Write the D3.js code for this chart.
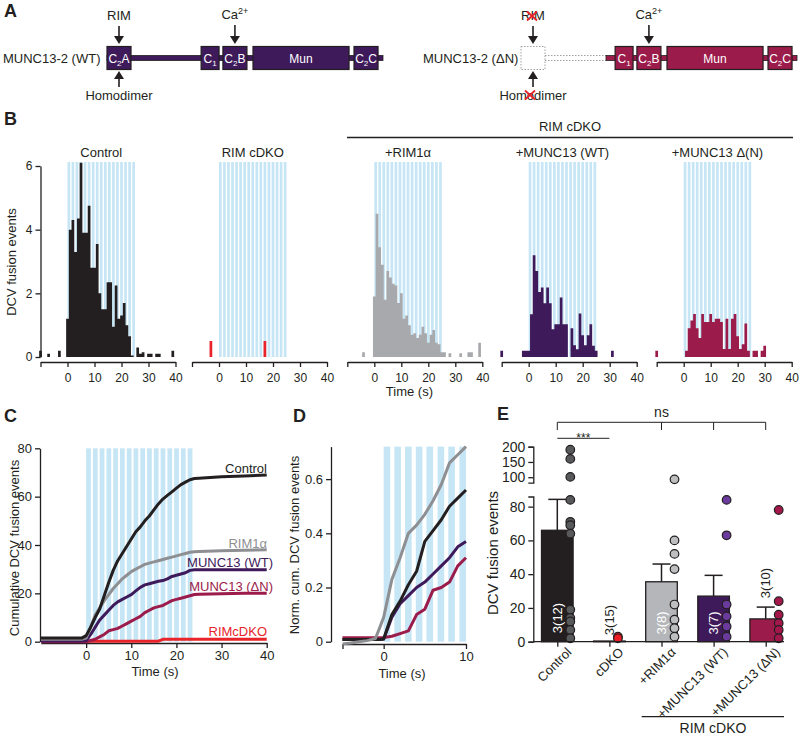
<!DOCTYPE html>
<meta charset="utf-8">
<style>
    body { margin: 0; background: #fff; }
    svg text { font-family: Arial, "Liberation Sans", Helvetica, sans-serif; fill: #231f20; }
    .axis path, .axis line { stroke: #231f20; stroke-width: 1.3; fill: none; }
    .axis text { font-size: 12px; }
</style>

<div id="fig"></div>

<script src="https://cdn.jsdelivr.net/npm/d3@7"></script>

<script>
    // ---------- data ----------
    // A: MUNC13-2 domains along the protein (relative units, 0-1000)
    var munDomains = [
        {name: "C", sub: "2", tail: "A", from: 0, to: 87},
        {name: "C", sub: "1", tail: "", from: 341, to: 406},
        {name: "C", sub: "2", tail: "B", from: 420, to: 507},
        {name: "Mun", sub: "", tail: "", from: 529, to: 877},
        {name: "C", sub: "2", tail: "C", from: 895, to: 982}
    ];
    var munLength = 1000, deltaNStart = 308;

    // B: DCV fusion events per 1 s bin, bins centred on -10 ... 39 s
    var binTimes = d3.range(-10, 40);
    var histControl = [0.2,0,0,0.1,0,0,0,0.2,0,0,
        1.2,4.0,4.3,3.3,4.35,6.1,3.9,3.9,4.75,2.8,
        2.8,3.55,2.0,1.5,1.5,2.35,2.35,0.95,2.25,1.2,
        1.3,1.7,1.0,0.65,0.05,0,0.3,0.1,0.15,0,
        0.1,0.1,0,0.1,0.1,0,0,0,0,0.2];
    var histCdko = [0,0,0,0,0,0,0,0.5,0,0,
        0,0,0,0,0,0,0,0,0,0,
        0,0,0,0,0,0,0,0.5,0,0,
        0,0,0,0,0,0,0,0,0,0,
        0,0,0,0,0,0,0,0,0,0];
    var histRim = [0,0,0,0,0,0,0.15,0,0,0,
        1.9,4.5,3.45,2.9,1.8,2.7,2.5,2.3,2.25,1.7,
        2.0,1.2,1.3,1.0,0.7,0.75,0.6,0.7,0.95,0.75,
        0.45,0.7,0.85,0.45,0.4,0.15,0.15,0,0.12,0,
        0,0,0.12,0,0,0.15,0.15,0,0,0.45];
    var histWT = [0.2,0,0,0,0,0,0,0,0.2,0.2,
        0.2,1.34,3.2,2.7,2.04,2.18,1.69,2.18,1.69,0.87,
        1.03,1.03,1.87,1.03,1.03,0,0.9,0.37,0.24,1.37,
        0.68,0.37,0.68,1.03,0.35,0.2,0,0,0,0,
        0,0.2,0,0,0,0,0,0,0,0];
    var histDN = [0.2,0,0,0,0,0,0,0,0,0,
        0,0.2,0.9,1.15,1.35,0.9,0.6,1.35,1.1,1.1,
        1.35,1.1,1.2,1.2,1.1,0.25,1.2,0.25,1.2,1.35,
        0.65,0.25,0.4,1.05,0.2,0,0.2,0.2,0,0.2,
        0.35,0,0,0,0,0,0,0,0,0];

    // stimulation trains (start, s)
    var trainsB = [0,1.5,3,4.5,6,7.5,9,10.5,12,13.5,15,16.5,18,19.5,21,22.5,24];
    var trainsC = [0,1.5,3,4.5,6,7.5,9,10.5,12,13.5,15,16.5,18,19.5,21,22.5];
    var trainsD = [0,1.3,2.6,3.9,5.2,6.55,7.85,9.2];

    // C: cumulative events
    var cumTimes = [-10,-1,0,1,2,3,4,5,6,7,8,9,10,11,12,13,14,15,16,17,18,19,20,21,22,23,24,25,30,35,40];
    var cumControl = [1.5,1.5,2.5,6,10,13.5,19,24.5,29.5,33.5,36.5,39.5,42.5,45.5,47.5,50,52,54.5,57,59,60.5,62,63.5,65,66,67,67.5,67.6,68.2,68.5,69];
    var cumRim = [1,1,1.5,6,11,14,17,19.5,22,24,26,27.5,29,30,31,32,32.5,33,33.5,34,34.5,35,35.5,36,36.5,37,37.2,37.3,37.6,37.8,38];
    var cumWT = [0.3,0.3,0.5,3,6,9,11,13,15,16.5,17.5,18.5,19.5,21,22.5,23.5,24,24.5,25,25.3,26,27,27.5,28,28.5,29.5,29.8,29.8,29.8,29.8,29.8];
    var cumDN = [0,0,0,0.5,1,2,3,4.5,5,5.5,6.5,7.5,8.5,9.5,10.5,12,13,14,14.5,15,16,17,17.5,18,18.5,19,19.5,19.6,19.8,20,20];
    var cumCdko = [0.2,0.2,0.2,0.2,0.2,0.2,0.2,0.2,0.2,0.2,0.2,0.2,0.2,0.2,0.2,0.2,0.2,0.2,0.2,1,1,1,1,1,1,1,1,1,1,1,1];

    // D: normalised cumulative events
    var normTimes = [-5,-4,-3,-2,-1,-0.5,0,1,2,3,4,5,6,7,8,9,10];
    var normRim = [-0.008,-0.005,0,0.004,0.012,0.05,0.09,0.23,0.31,0.40,0.43,0.47,0.52,0.58,0.66,0.69,0.72];
    var normControl = [0.008,0.008,0.008,0.008,0.008,0.008,0.01,0.1,0.15,0.21,0.26,0.37,0.41,0.45,0.5,0.53,0.56];
    var normWT = [0.008,0.008,0.008,0.008,0.008,0.008,0.01,0.09,0.14,0.17,0.2,0.22,0.25,0.28,0.31,0.35,0.37];
    var normDN = [0.015,0.015,0.015,0.015,0.015,0.015,0.015,0.02,0.03,0.04,0.1,0.12,0.19,0.2,0.22,0.28,0.31];

    // E: total events per cell
    var eCats = ["Control", "cDKO", "+RIM1α", "+MUNC13 (WT)", "+MUNC13 (ΔN)"];
    var eMeans = [66, 0.4, 35.5, 27, 13.5];
    var eSem = [18.3, 0.4, 10.5, 12.3, 7];
    var eN = ["3(12)", "3(15)", "3(8)", "3(7)", "3(10)"];
    var eDots = [
        [190,160,101,84,71,69,64,19,14,12,7,2],
        [3,2],
        [93,60,52,43,22,13,8,3],
        [84,63,22,15,9,3],
        [78,24,16,11,7,2]
    ];

    // ---------- colours ----------
    var black = "#231f20", red = "#e8232a", grey = "#a7a9ac", purple = "#3e1a5b",
        crimson = "#9b1b4b", blue = "#c7e6f5";

    var svg = d3.select("#fig").append("svg")
        .attr("width", 800)
        .attr("height", 735);

    function panelLetter(x, y, t) {
        svg.append("text").attr("x", x).attr("y", y)
            .style("font-size", "18px").style("font-weight", "bold").text(t);
    }

    // ================= A =================
    panelLetter(4, 17, "A");

    function arrow(g, x, yTail, yTip) {
        var dir = yTip > yTail ? 1 : -1;
        g.append("line").attr("x1", x).attr("x2", x).attr("y1", yTail).attr("y2", yTip - dir * 7)
            .attr("stroke", black).attr("stroke-width", 1.6);
        g.append("path")
            .attr("d", "M" + (x - 5) + "," + (yTip - dir * 8) + "L" + (x + 5) + "," + (yTip - dir * 8) + "L" + x + "," + yTip + "Z")
            .attr("fill", black);
    }

    function redCross(g, cx, cy) {
        [[-5, -4.5, 5, 4.5], [-5, 4.5, 5, -4.5]].forEach(function (c) {
            g.append("line").attr("x1", cx + c[0]).attr("y1", cy + c[1]).attr("x2", cx + c[2]).attr("y2", cy + c[3])
                .attr("stroke", red).attr("stroke-width", 1.8);
        });
    }

    function drawConstruct(x0, labelX, label, color, truncated) {
        var px = d3.scaleLinear().domain([0, munLength]).range([x0, x0 + 276]);
        var g = svg.append("g");
        var mid = 58, boxH = 23;
        var start = truncated ? deltaNStart : 0;

        g.append("text").attr("x", labelX).attr("y", mid + 4.5)
            .style("font-size", "13px").text(label);

        if (truncated) {
            g.append("rect").attr("x", px(0)).attr("y", mid - boxH / 2)
                .attr("width", px(munDomains[0].to) - px(0)).attr("height", boxH)
                .attr("fill", "none").attr("stroke", "#a0a0a0").attr("stroke-width", 1)
                .attr("stroke-dasharray", "1.5,1.5");
            [-2.5, 2.5].forEach(function (dy) {
                g.append("line").attr("x1", px(munDomains[0].to)).attr("x2", px(start))
                    .attr("y1", mid + dy).attr("y2", mid + dy)
                    .attr("stroke", "#a0a0a0").attr("stroke-width", 1).attr("stroke-dasharray", "1.5,1.5");
            });
        }

        g.append("rect").attr("x", px(start)).attr("y", mid - 2.5)
            .attr("width", px(munLength) - px(start)).attr("height", 5)
            .attr("fill", color).attr("stroke", black).attr("stroke-width", 0.8);

        var doms = munDomains.filter(function (d) { return d.from >= start; });
        g.selectAll("rect.dom").data(doms).enter().append("rect")
            .attr("class", "dom")
            .attr("x", function (d) { return px(d.from); })
            .attr("y", mid - boxH / 2)
            .attr("width", function (d) { return px(d.to) - px(d.from); })
            .attr("height", boxH)
            .attr("fill", color).attr("stroke", black).attr("stroke-width", 1.2);

        var lab = g.selectAll("text.dom").data(doms).enter().append("text")
            .attr("class", "dom")
            .attr("x", function (d) { return (px(d.from) + px(d.to)) / 2; })
            .attr("y", mid + 4.5)
            .attr("text-anchor", "middle")
            .style("font-size", "12px").style("fill", "#fff");
        lab.append("tspan").text(function (d) { return d.name; });
        lab.append("tspan").attr("dy", 3).style("font-size", "8px").text(function (d) { return d.sub; });
        lab.append("tspan").attr("dy", -3).text(function (d) { return d.tail; });

        // binding annotations
        var c2a = px((munDomains[0].from + munDomains[0].to) / 2);
        var c2b = px((munDomains[2].from + munDomains[2].to) / 2);
        g.append("text").attr("x", c2a).attr("y", 20).attr("text-anchor", "middle").style("font-size", "13px").text("RIM");
        arrow(g, c2a, 26, 44);
        arrow(g, c2a, 87, 71);
        g.append("text").attr("x", c2a).attr("y", 100).attr("text-anchor", "middle").style("font-size", "13px").text("Homodimer");
        var ca = g.append("text").attr("x", c2b).attr("y", 19).attr("text-anchor", "middle").style("font-size", "13px");
        ca.append("tspan").text("Ca");
        ca.append("tspan").attr("dy", -5).style("font-size", "9px").text("2+");
        arrow(g, c2b, 25, 44);

        if (truncated) {
            redCross(g, c2a - 1, 16);
            redCross(g, c2a - 3, 95);
        }
    }

    drawConstruct(107, 3, "MUNC13-2 (WT)", purple, false);
    drawConstruct(521, 423, "MUNC13-2 (\u0394N)", crimson, true);

    // ================= B =================
    panelLetter(4, 125, "B");

    var histY = d3.scaleLinear().domain([0, 6]).range([357, 166]);
    var histPanels = [
        {left: 40.5, title: "Control", values: histControl, color: black},
        {left: 192, title: "RIM cDKO", values: histCdko, color: red},
        {left: 347.3, title: "+RIM1\u03b1", values: histRim, color: grey},
        {left: 501.7, title: "+MUNC13 (WT)", values: histWT, color: purple},
        {left: 656.7, title: "+MUNC13 \u0394(N)", values: histDN, color: crimson}
    ];

    histPanels.forEach(function (p, i) {
        var x = d3.scaleLinear().domain([-10, 40]).range([p.left, p.left + 135]);
        var g = svg.append("g");

        g.selectAll("rect.stim").data(trainsB).enter().append("rect")
            .attr("class", "stim")
            .attr("x", function (d) { return x(d); })
            .attr("width", x(1) - x(0))
            .attr("y", 162).attr("height", histY(0) - 162)
            .attr("fill", blue);

        var pts = binTimes.map(function (t, k) { return {t: t - 0.5, v: p.values[k]}; });
        pts.push({t: 39.5, v: 0});
        var area = d3.area()
            .x(function (d) { return x(d.t); })
            .y0(histY(0))
            .y1(function (d) { return histY(d.v); })
            .curve(d3.curveStepAfter);
        g.append("path").datum(pts).attr("d", area).attr("fill", p.color);

        g.append("g").attr("class", "axis")
            .attr("transform", "translate(0,362)")
            .call(d3.axisBottom(x).tickValues([-10, 0, 10, 20, 30, 40]).tickSize(5).tickSizeOuter(0)
                .tickPadding(6)
                .tickFormat(function (d) { return d < 0 ? "" : d; }));

        g.append("text").attr("x", x(12.5)).attr("y", 157).attr("text-anchor", "middle")
            .style("font-size", "13px").text(p.title);

        if (i == 0) {
            g.append("g").attr("class", "axis")
                .attr("transform", "translate(" + p.left + ",0)")
                .call(d3.axisLeft(histY).tickValues([0, 2, 4, 6]).tickSize(5).tickSizeOuter(0)
                    .tickFormat(d3.format("d")));
            g.append("text").attr("transform", "translate(16,262) rotate(-90)")
                .attr("text-anchor", "middle").style("font-size", "13px").text("DCV fusion events");
        }
        if (i == 2) {
            g.append("text").attr("x", x(13)).attr("y", 396).attr("text-anchor", "middle")
                .style("font-size", "13px").text("Time (s)");
        }
    });

    svg.append("line").attr("x1", 347).attr("x2", 793).attr("y1", 137.5).attr("y2", 137.5)
        .attr("stroke", black).attr("stroke-width", 1.5);
    svg.append("text").attr("x", 570).attr("y", 131).attr("text-anchor", "middle")
        .style("font-size", "13px").text("RIM cDKO");

    // ================= C =================
    panelLetter(4, 422, "C");

    var xC = d3.scaleLinear().domain([-10, 40]).range([41, 266.7]);
    var yC = d3.scaleLinear().domain([0, 80]).range([641.7, 448.3]);

    svg.append("g").selectAll("rect").data(trainsC).enter().append("rect")
        .attr("x", function (d) { return xC(d); })
        .attr("width", xC(1.05) - xC(0))
        .attr("y", yC(80)).attr("height", yC(0) - yC(80))
        .attr("fill", blue);

    svg.append("g").attr("class", "axis")
        .attr("transform", "translate(0,643)")
        .call(d3.axisBottom(xC).tickValues([0, 10, 20, 30, 40]).tickSize(5).tickSizeOuter(0))
        .selectAll("text").style("font-size", "13px");
    svg.append("g").attr("class", "axis")
        .attr("transform", "translate(40,0)")
        .call(d3.axisLeft(yC).tickValues([0, 20, 40, 60, 80]).tickSize(5).tickSizeOuter(0))
        .selectAll("text").style("font-size", "13px");

    var cumSeries = [
        {vals: cumCdko, color: red, label: "RIMcDKO", ly: 636},
        {vals: cumDN, color: crimson, label: "MUNC13 (\u0394N)", ly: 591},
        {vals: cumWT, color: purple, label: "MUNC13 (WT)", ly: 567},
        {vals: cumRim, color: "#8e8f92", label: "RIM1\u03b1", ly: 548},
        {vals: cumControl, color: black, label: "Control", ly: 473}
    ];
    var lineC = d3.line()
        .x(function (d) { return xC(d[0]); })
        .y(function (d) { return yC(d[1]); });
    cumSeries.forEach(function (s) {
        var pts = cumTimes.map(function (t, k) { return [t, s.vals[k]]; });
        svg.append("path").datum(pts).attr("d", lineC)
            .attr("fill", "none").attr("stroke", s.color).attr("stroke-width", 3)
            .attr("stroke-linejoin", "round");
        svg.append("text").attr("x", s.label.indexOf("MUNC") == 0 ? 273 : 267).attr("y", s.ly)
            .attr("text-anchor", "end").style("font-size", "13px").style("fill", s.color).text(s.label);
    });

    svg.append("text").attr("transform", "translate(19,548) rotate(-90)")
        .attr("text-anchor", "middle").style("font-size", "13px").text("Cumulative DCV fusion events");
    svg.append("text").attr("x", 155).attr("y", 676).attr("text-anchor", "middle")
        .style("font-size", "13px").text("Time (s)");

    // ================= D =================
    panelLetter(293, 422, "D");

    var xD = d3.scaleLinear().domain([-5, 10]).range([342.5, 466]);
    var yD = d3.scaleLinear().domain([0, 0.72]).range([641.7, 446.6]);

    svg.append("g").selectAll("rect").data(trainsD).enter().append("rect")
        .attr("x", function (d) { return xD(d); })
        .attr("width", xD(0.8) - xD(0))
        .attr("y", yD(0.72)).attr("height", yD(0) - yD(0.72))
        .attr("fill", blue);

    svg.append("g").attr("class", "axis")
        .attr("transform", "translate(0,644)")
        .call(d3.axisBottom(xD).tickValues([-5, 0, 10]).tickSize(5).tickSizeOuter(0)
            .tickFormat(function (d) { return d < 0 ? "" : d; }))
        .selectAll("text").style("font-size", "13px");
    svg.append("g").attr("class", "axis")
        .attr("transform", "translate(331,0)")
        .call(d3.axisLeft(yD).tickValues([0, 0.2, 0.4, 0.6]).tickSize(5).tickSizeOuter(0)
            .tickFormat(function (d) { return d == 0 ? "0" : d3.format(".1f")(d); }))
        .selectAll("text").style("font-size", "13px");

    var normSeries = [
        {vals: normDN, color: crimson},
        {vals: normWT, color: purple},
        {vals: normControl, color: black},
        {vals: normRim, color: "#8e8f92"}
    ];
    var lineD = d3.line()
        .x(function (d) { return xD(d[0]); })
        .y(function (d) { return yD(d[1]); });
    normSeries.forEach(function (s) {
        var pts = normTimes.map(function (t, k) { return [t, s.vals[k]]; });
        svg.append("path").datum(pts).attr("d", lineD)
            .attr("fill", "none").attr("stroke", s.color).attr("stroke-width", 3)
            .attr("stroke-linejoin", "round");
    });

    svg.append("text").attr("transform", "translate(299,545) rotate(-90)")
        .attr("text-anchor", "middle").style("font-size", "13px").text("Norm. cum. DCV fusion events");
    svg.append("text").attr("x", 402).attr("y", 678).attr("text-anchor", "middle")
        .style("font-size", "13px").text("Time (s)");

    // ================= E =================
    panelLetter(497, 420, "E");

    var yLow = d3.scaleLinear().domain([0, 86]).range([641.7, 496.5]);
    var yHigh = d3.scaleLinear().domain([82, 200]).range([482.7, 446.7]);
    function yE(v) { return v <= 86 ? yLow(v) : yHigh(v); }
    var xE = d3.scalePoint().domain(eCats).range([557.3, 765.7]);
    var barW = 31.6;
    var barFill = [black, red, "#b4b6b9", purple, crimson];
    var dotFill = ["#58595b", "#ed1c24", "#bcbec0", "#6a3b9c", "#a3174a"];

    svg.append("g").attr("class", "axis")
        .attr("transform", "translate(533.3,0)")
        .call(d3.axisLeft(yLow).tickValues([0, 20, 40, 60, 80]).tickSize(5).tickSizeOuter(5))
        .selectAll("text").style("font-size", "14px");
    svg.append("g").attr("class", "axis")
        .attr("transform", "translate(533.3,0)")
        .call(d3.axisLeft(yHigh).tickValues([100, 150, 200]).tickSize(5).tickSizeOuter(5))
        .selectAll("text").style("font-size", "14px");

    var eData = eCats.map(function (c, i) {
        return {cat: c, mean: eMeans[i], sem: eSem[i], n: eN[i], dots: eDots[i], i: i};
    });

    // error bars (upper half only)
    eData.forEach(function (d) {
        var cx = xE(d.cat);
        if (d.sem > 1) {
            svg.append("line").attr("x1", cx).attr("x2", cx).attr("y1", yE(d.mean)).attr("y2", yE(d.mean + d.sem))
                .attr("stroke", black).attr("stroke-width", 1.5);
            svg.append("line").attr("x1", cx - 9).attr("x2", cx + 9)
                .attr("y1", yE(d.mean + d.sem)).attr("y2", yE(d.mean + d.sem))
                .attr("stroke", black).attr("stroke-width", 1.5);
        }
    });

    svg.selectAll("rect.ebar").data(eData).enter().append("rect")
        .attr("class", "ebar")
        .attr("x", function (d) { return xE(d.cat) - barW / 2; })
        .attr("width", barW)
        .attr("y", function (d) { return yE(d.mean); })
        .attr("height", function (d) { return yE(0) - yE(d.mean); })
        .attr("fill", function (d) { return barFill[d.i]; })
        .attr("stroke", black).attr("stroke-width", 1.3);

    eData.forEach(function (d) {
        var cx = xE(d.cat);
        var labY = d.i == 4 ? 583 : (d.i == 0 ? 618 : (d.i == 1 ? 620 : 623));
        var inside = d.i == 0 || d.i == 2 || d.i == 3;
        svg.append("text")
            .attr("transform", "translate(" + (cx + 4.5) + "," + labY + ") rotate(-90)")
            .attr("text-anchor", "middle")
            .style("font-size", "13px").style("fill", inside ? "#fff" : black)
            .text(d.n);

        svg.selectAll(null).data(d.dots).enter().append("circle")
            .attr("cx", cx + (d.i == 1 ? 8.5 : 13))
            .attr("cy", function (v) { return yE(v); })
            .attr("r", 4.3)
            .attr("fill", dotFill[d.i])
            .attr("stroke", black).attr("stroke-width", 1.2);
    });

    // x axis
    svg.append("line").attr("x1", 533.3).attr("x2", 784).attr("y1", 641.7).attr("y2", 641.7)
        .attr("stroke", black).attr("stroke-width", 1.3);
    svg.append("g").attr("class", "axis")
        .attr("transform", "translate(0,641.7)")
        .call(d3.axisBottom(xE).tickSize(5).tickSizeOuter(0).tickFormat(""))
        .select(".domain").remove();
    svg.selectAll("text.ecat").data(eCats).enter().append("text")
        .attr("class", "ecat")
        .attr("transform", function (c) { return "translate(" + (xE(c) + 15) + ",653) rotate(-45)"; })
        .attr("text-anchor", "end")
        .style("font-size", "13px")
        .text(function (c) { return c; });

    svg.append("line").attr("x1", 641.7).attr("x2", 784).attr("y1", 716.7).attr("y2", 716.7)
        .attr("stroke", black).attr("stroke-width", 1.3);
    svg.append("text").attr("x", 713).attr("y", 733).attr("text-anchor", "middle")
        .style("font-size", "14px").text("RIM cDKO");

    svg.append("text").attr("transform", "translate(498,553) rotate(-90)")
        .attr("text-anchor", "middle").style("font-size", "15px").text("DCV fusion events");

    // significance
    var nsX = [eCats[0], eCats[2], eCats[3], eCats[4]].map(function (c) { return xE(c); });
    svg.append("line").attr("x1", nsX[0]).attr("x2", nsX[3]).attr("y1", 422.3).attr("y2", 422.3)
        .attr("stroke", black).attr("stroke-width", 1);
    nsX.forEach(function (x) {
        svg.append("line").attr("x1", x).attr("x2", x).attr("y1", 422.3).attr("y2", 430)
            .attr("stroke", black).attr("stroke-width", 1);
    });
    svg.append("text").attr("x", nsX[1]).attr("y", 417).attr("text-anchor", "middle")
        .style("font-size", "14px").text("ns");
    svg.append("line").attr("x1", xE(eCats[0])).attr("x2", xE(eCats[1])).attr("y1", 438.3).attr("y2", 438.3)
        .attr("stroke", black).attr("stroke-width", 1);
    svg.append("text").attr("x", (xE(eCats[0]) + xE(eCats[1])) / 2).attr("y", 441.5).attr("text-anchor", "middle")
        .style("font-size", "12px").text("***");
</script>
